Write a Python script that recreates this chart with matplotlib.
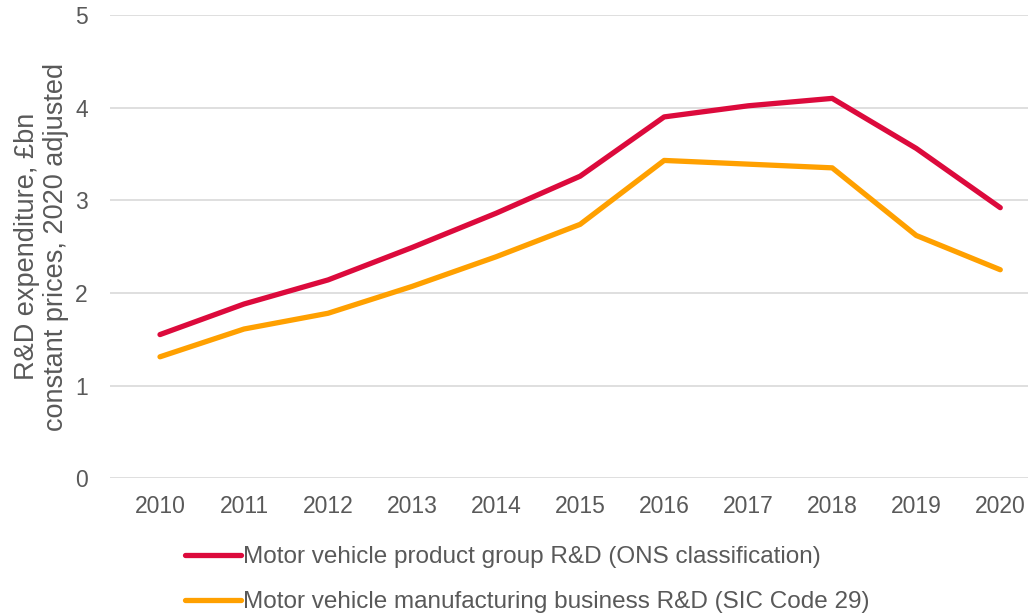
import matplotlib.pyplot as plt

plt.rcParams['font.family'] = ['Liberation Sans', 'DejaVu Sans']

years = [2010, 2011, 2012, 2013, 2014, 2015, 2016, 2017, 2018, 2019, 2020]
product_group = [1.55, 1.88, 2.14, 2.49, 2.86, 3.26, 3.90, 4.02, 4.10, 3.56, 2.92]
manufacturing = [1.31, 1.61, 1.78, 2.07, 2.39, 2.74, 3.43, 3.39, 3.35, 2.62, 2.25]
labels = ['Motor vehicle product group R&D (ONS classification)',
          'Motor vehicle manufacturing business R&D (SIC Code 29)']

grey = '#595959'
fig = plt.figure(figsize=(10.28, 6.13), dpi=100)
ax = fig.add_axes([0.107, 0.22, 0.893, 0.7555])

ax.plot(years, product_group, color='#DC0A3C', lw=3.8, solid_capstyle='round',
        solid_joinstyle='round', label=labels[0])
ax.plot(years, manufacturing, color='#FFA000', lw=3.8, solid_capstyle='round',
        solid_joinstyle='round', label=labels[1])

ax.set_ylim(0, 5)
ax.set_xlim(2009.405, 2020.33)
ax.set_yticks(range(0, 6))
ax.set_xticks(years)
ax.grid(axis='y', color='#d9d9d9', lw=1.2)
ax.set_axisbelow(True)
for s in ax.spines.values():
    s.set_visible(False)
ax.tick_params(length=0, labelsize=16.5, labelcolor=grey)
ax.tick_params(axis='x', pad=12)
ax.tick_params(axis='y', pad=16)
ax.set_ylabel('R&D expenditure, £bn\nconstant prices, 2020 adjusted',
              fontsize=19.5, color=grey, labelpad=4, linespacing=1.15)

fig.legend(loc='upper left', bbox_to_anchor=(0.18, 0.109), frameon=False,
           fontsize=17.5, labelcolor=grey, handlelength=2.3, handletextpad=0.1,
           labelspacing=0.95, borderpad=0, borderaxespad=0)

fig.savefig('out.png', dpi=100)
